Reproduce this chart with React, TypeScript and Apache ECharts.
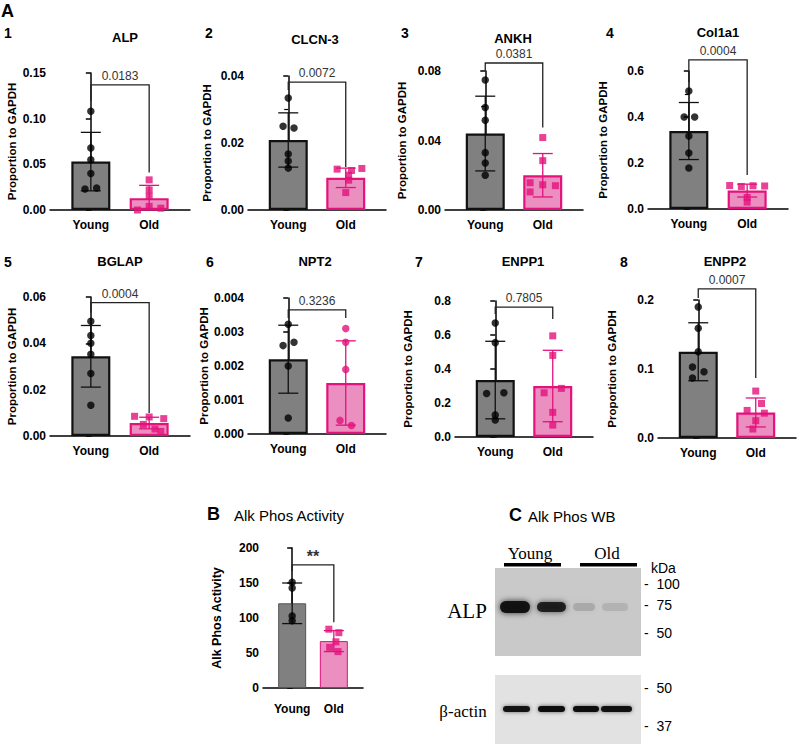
import React, { useEffect, useRef } from "react";
import * as echarts from "echarts";

// ---------- DATA ----------
const groups = ["Young", "Old"];
const panelNumbers = ["1", "2", "3", "4", "5", "6", "7", "8"];
const panelTitles = ["ALP", "CLCN-3", "ANKH", "Col1a1", "BGLAP", "NPT2", "ENPP1", "ENPP2"];
const pValues = ["0.0183", "0.0072", "0.0381", "0.0004", "0.0004", "0.3236", "0.7805", "0.0007"];
const yMax = [0.15, 0.04, 0.08, 0.6, 0.06, 0.004, 0.8, 0.2];
const yStep = [0.05, 0.02, 0.04, 0.2, 0.02, 0.001, 0.2, 0.1];
const yDecimals = [2, 2, 2, 1, 2, 3, 1, 1];
const hasMinor = [false, true, true, true, false, false, false, false];
const oldSymbol = ["rect", "rect", "rect", "rect", "rect", "circle", "rect", "rect"];

const meanYoung = [0.053, 0.0209, 0.044, 0.339, 0.0344, 0.0022, 0.335, 0.125];
const meanOld = [0.013, 0.0096, 0.02, 0.08, 0.0056, 0.0015, 0.3, 0.037];
const sdYoung = [0.032, 0.0081, 0.0215, 0.124, 0.0133, 0.001, 0.228, 0.042];
const sdOld = [0.014, 0.0029, 0.0125, 0.028, 0.0025, 0.00124, 0.21, 0.021];

const alpYoung = [0.108, 0.068, 0.055, 0.04, 0.023, 0.024];
const alpOld = [0.033, 0.022, 0.015, 0.0, 0.004, 0.002];
const clcnYoung = [0.0334, 0.025, 0.0245, 0.0167, 0.0146, 0.0125];
const clcnOld = [0.0122, 0.0118, 0.0104, 0.0124, 0.0089, 0.0052];
const ankhYoung = [0.0748, 0.059, 0.0516, 0.033, 0.027, 0.02];
const ankhOld = [0.0417, 0.0284, 0.0157, 0.0145, 0.014, 0.0104];
const colYoung = [0.513, 0.4, 0.4, 0.317, 0.243, 0.178];
const colOld = [0.102, 0.098, 0.101, 0.1, 0.05, 0.03];
const bglapYoung = [0.0495, 0.0434, 0.04, 0.0353, 0.027, 0.0133];
const bglapOld = [0.0085, 0.0082, 0.0075, 0.005, 0.003, 0.002];
const nptYoung = [0.00323, 0.0026, 0.0027, 0.002, 0.00047];
const nptOld = [0.0031, 0.0027, 0.0019, 0.0004, 0.00025];
const enpp1Young = [0.67, 0.555, 0.256, 0.26, 0.13, 0.1];
const enpp1Old = [0.595, 0.48, 0.286, 0.26, 0.145, 0.07];
const enpp2Young = [0.19, 0.159, 0.125, 0.103, 0.096, 0.087];
const enpp2Old = [0.068, 0.05, 0.04, 0.036, 0.025, 0.013];

const jitterYoung = [
  [0, 0, 0, 0, -0.1, 0.1],
  [0, -0.09, 0.1, 0, 0, 0],
  [0, 0, 0, 0, 0, 0],
  [0, -0.08, 0.1, 0, 0, 0],
  [0, 0, 0, 0, 0, 0],
  [0, -0.09, 0.1, 0, 0],
  [0, 0, -0.15, 0.15, 0, 0],
  [0, 0, 0, -0.1, 0.1, -0.1],
];
const jitterOld = [
  [0, 0, 0, -0.2, 0, 0.2],
  [-0.15, 0.1, 0.05, 0.28, 0.05, 0],
  [0, 0, -0.22, 0, 0.22, -0.22],
  [-0.3, -0.1, 0.1, 0.3, 0, 0],
  [-0.25, 0, 0.25, -0.1, 0.1, 0.2],
  [0, 0, 0, -0.1, 0.1],
  [0, 0, 0.15, -0.15, 0, 0],
  [0, 0.1, -0.15, 0.15, 0, -0.05],
];
// bracket: [top, young leg end, old leg end]
const bracketTop = [0.137, 0.0382, 0.0846, 0.648, 0.0576, 0.00365, 0.764, 0.216];
const bracketYoungEnd = [0.1196, 0.0358, 0.08, 0.552, 0.0533, 0.00341, 0.723, 0.203];
const bracketOldEnd = [0.041, 0.0128, 0.0475, 0.148, 0.0099, 0.00341, 0.694, 0.087];

// Panel B
const actMean = [121, 67];
const actSd = [29, 15];
const actYoung = [151, 143, 103, 96];
const actOld = [84, 79, 66, 58, 52];
const actJitterYoung = [0, 0, 0, 0];
const actJitterOld = [-0.12, 0.12, 0.05, -0.1, 0.1];
const actBracket = [176, 167, 94];
const actTicks = [0, 200, 50];

// Panel C (western blot)
const wbAlpIntensity = [1.0, 0.9, 0.28, 0.2];
const wbActinIntensity = [0.95, 1.0, 1.0, 0.97];
const wbUpperMarkers = ["100", "75", "50"];
const wbLowerMarkers = ["50", "37"];

// ---------- LAYOUT ----------
const panelGrid = [
  [50, 73, 140, 137],
  [248, 76, 138, 134],
  [445, 71, 138, 139],
  [648, 71, 140, 138],
  [50, 297, 140, 139],
  [248, 298, 138, 136],
  [455, 301, 138, 136],
  [658, 300, 138, 138],
];
const nameGaps = [32, 35, 37, 39, 32, 35, 41, 40];
const numberPos = [[4, 33], [205, 33], [401, 33], [606, 33], [4, 262], [206, 262], [415, 262], [620, 262]];
const titlePos = [[125, 37], [315, 39], [513, 38], [718, 32], [120, 261], [315, 261], [523, 261], [725, 261]];
const gridB = [263, 548, 100, 140];

const SANS = "'Liberation Sans', Arial, sans-serif";
const SERIF = "'Liberation Serif', 'Times New Roman', serif";
const MAG = "#e3127c";
const PINK = "#ea8fc0";
const GRAY = "#808080";

function txt(text: string, x: number, y: number, font: string, align = "center", fill = "#000") {
  return {
    type: "text",
    x,
    y,
    silent: true,
    style: {
      text,
      font,
      fill,
      textAlign: align,
      align,
      textVerticalAlign: "middle",
      verticalAlign: "middle",
    },
  };
}

function buildOption() {
  const youngPts = [alpYoung, clcnYoung, ankhYoung, colYoung, bglapYoung, nptYoung, enpp1Young, enpp2Young];
  const oldPts = [alpOld, clcnOld, ankhOld, colOld, bglapOld, nptOld, enpp1Old, enpp2Old];

  const grids: any[] = [];
  const xAxes: any[] = [];
  const yAxes: any[] = [];
  const series: any[] = [];

  type P = {
    grid: number[];
    max: number;
    step: number;
    dec: number;
    minor: boolean;
    name: string;
    nameGap: number;
    nameSize: number;
    xMargin: number;
    means: number[];
    sds: number[];
    young: number[];
    old: number[];
    jy: number[];
    jo: number[];
    bracket: number[];
    label: string;
    labelFont: string;
    oldSym: string;
    barWidth: number;
    thinBorder: boolean;
  };
  const panels: P[] = [];
  for (let i = 0; i < 8; i++) {
    panels.push({
      grid: panelGrid[i],
      max: yMax[i],
      step: yStep[i],
      dec: yDecimals[i],
      minor: hasMinor[i],
      name: "Proportion to GAPDH",
      nameGap: nameGaps[i],
      nameSize: 11.5,
      xMargin: 9,
      means: [meanYoung[i], meanOld[i]],
      sds: [sdYoung[i], sdOld[i]],
      young: youngPts[i],
      old: oldPts[i],
      jy: jitterYoung[i],
      jo: jitterOld[i],
      bracket: [bracketTop[i], bracketYoungEnd[i], bracketOldEnd[i]],
      label: pValues[i],
      labelFont: `12px ${SANS}`,
      oldSym: oldSymbol[i],
      barWidth: 39,
      thinBorder: false,
    });
  }
  panels.push({
    grid: gridB,
    max: actTicks[1],
    step: actTicks[2],
    dec: 0,
    minor: false,
    name: "Alk Phos Activity",
    nameGap: 40,
    nameSize: 12.5,
    xMargin: 15,
    means: actMean,
    sds: actSd,
    young: actYoung,
    old: actOld,
    jy: actJitterYoung,
    jo: actJitterOld,
    bracket: actBracket,
    label: "**",
    labelFont: `bold 16px ${SANS}`,
    oldSym: "rect",
    barWidth: 28,
    thinBorder: true,
  });

  panels.forEach((p, i) => {
    const [l, t, w, h] = p.grid;
    grids.push({ left: l, top: t, width: w, height: h, containLabel: false });
    xAxes.push({
      type: "value",
      gridIndex: i,
      min: -0.7,
      max: 1.7,
      splitLine: { show: false },
      axisTick: { show: false },
      axisLine: { show: true, onZero: false, lineStyle: { color: "#000", width: 1.5 } },
      axisLabel: {
        customValues: [0, 1],
        formatter: (v: number) => groups[Math.round(v)] ?? "",
        fontFamily: SANS,
        fontWeight: "bold",
        fontSize: 12,
        color: "#000",
        margin: p.xMargin,
      },
    });
    yAxes.push({
      type: "value",
      gridIndex: i,
      min: 0,
      max: p.max,
      interval: p.step,
      splitLine: { show: false },
      axisLine: { show: true, lineStyle: { color: "#000", width: 1.5 } },
      axisTick: { show: true, length: 5, lineStyle: { color: "#000", width: 1.5 } },
      minorTick: { show: p.minor, splitNumber: 2, length: 4, lineStyle: { color: "#000", width: 1.2 } },
      axisLabel: {
        formatter: (v: number) => v.toFixed(p.dec),
        fontFamily: SANS,
        fontWeight: "bold",
        fontSize: 12,
        color: "#000",
        margin: 4,
      },
      name: p.name,
      nameLocation: "middle",
      nameGap: p.nameGap,
      nameRotate: 90,
      nameTextStyle: { fontFamily: SANS, fontWeight: "bold", fontSize: p.nameSize, color: "#000" },
    });

    // bars
    series.push({
      type: "bar",
      xAxisIndex: i,
      yAxisIndex: i,
      barWidth: p.barWidth,
      z: 2,
      data: p.means.map((m, k) => ({
        value: [k, m],
        itemStyle: {
          color: k === 0 ? GRAY : PINK,
          borderColor: k === 0 ? (p.thinBorder ? "#555" : "#111") : MAG,
          borderWidth: p.thinBorder ? 1 : 2.2,
        },
      })),
    });
    // error bars
    series.push({
      type: "custom",
      xAxisIndex: i,
      yAxisIndex: i,
      z: 3,
      clip: false,
      data: p.means.map((m, k) => [k, m, p.sds[k]]),
      renderItem: (params: any, api: any) => {
        const k = api.value(0);
        const m = api.value(1);
        const s = api.value(2);
        const top = api.coord([k, m + s]);
        const bot = api.coord([k, Math.max(m - s, 0)]);
        const cw = 10;
        const stroke = k === 0 ? "#111" : MAG;
        const st = { stroke, lineWidth: 1.3 };
        return {
          type: "group",
          children: [
            { type: "line", shape: { x1: top[0], y1: top[1], x2: bot[0], y2: bot[1] }, style: st },
            { type: "line", shape: { x1: top[0] - cw, y1: top[1], x2: top[0] + cw, y2: top[1] }, style: st },
            { type: "line", shape: { x1: bot[0] - cw, y1: bot[1], x2: bot[0] + cw, y2: bot[1] }, style: st },
          ],
        };
      },
    });
    // points
    series.push({
      type: "scatter",
      xAxisIndex: i,
      yAxisIndex: i,
      z: 4,
      symbol: "circle",
      symbolSize: 7.5,
      itemStyle: { color: "#000" },
      data: p.young.map((v, k) => [p.jy[k], v]),
    });
    series.push({
      type: "scatter",
      xAxisIndex: i,
      yAxisIndex: i,
      z: 4,
      symbol: p.oldSym,
      symbolSize: p.oldSym === "rect" ? 7 : 7.5,
      itemStyle: { color: MAG },
      data: p.old.map((v, k) => [1 + p.jo[k], v]),
    });
    // bracket
    const lbl = p.label;
    const lf = p.labelFont;
    series.push({
      type: "custom",
      xAxisIndex: i,
      yAxisIndex: i,
      z: 5,
      clip: false,
      data: [p.bracket],
      renderItem: (params: any, api: any) => {
        const top = api.value(0);
        const yE = api.value(1);
        const oE = api.value(2);
        const a = api.coord([0, yE]);
        const b = api.coord([0, top]);
        const c = api.coord([1, top]);
        const d = api.coord([1, oE]);
        return {
          type: "group",
          children: [
            {
              type: "polyline",
              shape: { points: [a, b, c, d] },
              style: { stroke: "#222", lineWidth: 1.3, fill: null },
            },
            {
              type: "text",
              x: (b[0] + c[0]) / 2,
              y: b[1] - (lbl === "**" ? 0 : 3),
              style: {
                text: lbl,
                font: lf,
                fill: "#333",
                textAlign: "center",
                align: "center",
                textVerticalAlign: "bottom",
                verticalAlign: "bottom",
              },
            },
          ],
        };
      },
    });
  });

  // ---- graphic: labels and western blot ----
  const g: any[] = [];
  g.push(txt("A", 1, 11, `bold 18px ${SANS}`, "left"));
  for (let i = 0; i < 8; i++) {
    g.push(txt(panelNumbers[i], numberPos[i][0], numberPos[i][1], `bold 14px ${SANS}`, "left"));
    g.push(txt(panelTitles[i], titlePos[i][0], titlePos[i][1], `bold 13px ${SANS}`));
  }
  g.push(txt("B", 207, 514, `bold 18px ${SANS}`, "left"));
  g.push(txt("Alk Phos Activity", 234, 515, `15px ${SANS}`, "left"));
  g.push(txt("C", 509, 515, `bold 18px ${SANS}`, "left"));
  g.push(txt("Alk Phos WB", 528, 516, `15px ${SANS}`, "left"));

  // blot frames
  const upX = 495, upY = 568, upW = 146, upH = 88;
  const loX = 495, loY = 675, loW = 146, loH = 69;
  g.push({ type: "rect", silent: true, shape: { x: upX, y: upY, width: upW, height: upH }, style: { fill: "#c9c9c9" } });
  g.push({ type: "rect", silent: true, shape: { x: loX, y: loY, width: loW, height: loH }, style: { fill: "#e2e2e2" } });

  // lane headers
  g.push(txt("Young", 530, 553, `17px ${SERIF}`));
  g.push(txt("Old", 607, 553, `17px ${SERIF}`));
  g.push({ type: "rect", silent: true, shape: { x: 504, y: 563, width: 57, height: 3.5 }, style: { fill: "#000" } });
  g.push({ type: "rect", silent: true, shape: { x: 580, y: 563, width: 57, height: 3.5 }, style: { fill: "#000" } });

  // ALP bands
  const alpLanes = [[500, 30], [537, 29], [573, 22], [602, 26]];
  wbAlpIntensity.forEach((it, k) => {
    const [x, w] = alpLanes[k];
    const hh = k < 2 ? 12 - k * 2 : 8;
    const a = Math.min(1, it);
    g.push({
      type: "rect",
      silent: true,
      shape: { x, y: 607 - hh / 2, width: w, height: hh, r: hh / 2 },
      style: {
        fill: `rgba(10,10,10,${a * (k < 2 ? 0.95 : 0.5)})`,
        shadowBlur: 6,
        shadowColor: `rgba(10,10,10,${a * 0.8})`,
      },
    });
  });
  // actin bands
  const actLanes = [[503, 27], [538, 27], [573, 26], [601, 31]];
  wbActinIntensity.forEach((it, k) => {
    const [x, w] = actLanes[k];
    g.push({
      type: "rect",
      silent: true,
      shape: { x, y: 706, width: w, height: 6, r: 3 },
      style: { fill: `rgba(15,15,15,${it})`, shadowBlur: 4, shadowColor: `rgba(15,15,15,${it * 0.6})` },
    });
  });

  g.push(txt("ALP", 467, 611, `21px ${SERIF}`));
  g.push(txt("β-actin", 463, 711, `17px ${SERIF}`));
  g.push(txt("kDa", 651, 568, `14px ${SANS}`, "left"));
  const upMarkY = [584, 605, 633];
  wbUpperMarkers.forEach((m, k) => g.push(txt(`-  ${m}`, 644, upMarkY[k], `14px ${SANS}`, "left")));
  const loMarkY = [688, 726];
  wbLowerMarkers.forEach((m, k) => g.push(txt(`-  ${m}`, 644, loMarkY[k], `14px ${SANS}`, "left")));

  return {
    animation: false,
    backgroundColor: "#fff",
    grid: grids,
    xAxis: xAxes,
    yAxis: yAxes,
    series,
    graphic: g,
  };
}

export default function App() {
  const ref = useRef<HTMLDivElement>(null);
  useEffect(() => {
    if (!ref.current) return;
    const chart = echarts.init(ref.current, undefined, { renderer: "svg" });
    chart.setOption(buildOption() as any);
    return () => chart.dispose();
  }, []);
  return (
    <div
      ref={ref}
      style={{ position: "fixed", left: 0, top: 0, width: 800, height: 744, background: "#fff" }}
    />
  );
}
